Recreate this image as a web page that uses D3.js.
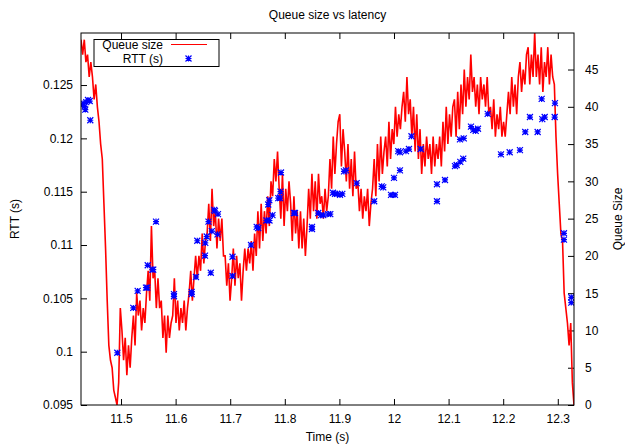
<!DOCTYPE html>
<html>
<head>
<script src="https://d3js.org/d3.v7.min.js"></script>
<style>
    body { margin: 0; background: #fff; }
    text { font-family: "Liberation Sans", Arial, sans-serif; }
</style>
</head>
<body>
<div id="chart"></div>
<script>
    // Queue size samples (packets), one every queueStep seconds from queueStart
    var queueStart = 11.4267
    var queueStep = 0.003
    var queueSize = [
        49,47,49,46,47,44,46,44,41,43,
        40,38,35,33,27,21,14,8,6,5,
        2,1,0,3,13,10,6,9,4,8,
        5,9,12,8,15,12,14,10,13,11,
        15,18,14,24,17,18,13,17,13,14,
        9,12,7,12,9,11,12,17,11,14,
        10,13,11,14,10,13,15,18,14,17,
        20,17,20,18,23,19,22,23,27,22,
        29,24,26,21,25,22,25,20,20,16,
        19,14,17,21,16,20,17,19,14,18,
        21,18,21,19,22,18,23,20,26,21,
        27,22,26,23,28,24,30,28,33,30,
        34,29,25,31,24,29,26,30,27,22,
        28,23,26,21,26,21,25,20,24,29,
        25,31,26,30,25,31,27,28,25,29,
        26,28,33,29,36,31,35,38,39,32,
        37,34,30,35,29,33,28,34,29,30,
        26,29,25,28,26,29,24,27,29,33,
        28,35,30,36,31,34,36,32,38,33,
        37,35,40,36,39,37,40,42,38,44,
        39,41,36,40,34,39,33,37,31,35,
        32,36,33,35,31,36,32,35,33,36,
        32,38,34,40,35,39,36,40,41,36,
        42,37,43,39,45,40,44,41,47,42,
        44,40,43,39,44,41,43,40,44,39,
        40,37,41,36,39,37,40,36,38,36,
        39,42,39,44,40,43,39,44,46,42,
        45,43,47,48,43,47,44,50,44,47,
        43,48,42,46,44,48,43,47,44,43,
        36,31,27,23,22,15,13,11,8,11,
        3,0
    ]

    // RTT samples: time (s) and RTT (s)
    var rttTime = [
        11.4298,11.4307,11.4335,11.4346,11.4364,11.4395,11.4426,11.4437,
        11.4932,11.5225,11.5305,11.5457,11.5481,11.5489,11.5573,11.5591,11.5641,
        11.5970,11.5970,11.6294,11.6294,11.6373,11.6397,11.6538,11.6543,11.6569,
        11.6602,11.6644,11.6663,11.6707,11.6721,11.6767,11.6776,
        11.7042,11.7042,11.7381,11.7485,11.7514,11.7664,11.7719,11.7697,11.7716,
        11.7774,11.7881,11.7912,11.7921,11.7930,
        11.8168,11.8186,11.8498,11.8498,11.8613,11.8663,11.8705,11.8796,11.8833,
        11.8882,11.8919,11.8956,11.9011,11.9053,11.9084,11.9120,11.9316,
        11.9637,11.9774,11.9803,11.9945,12.0018,12.0000,12.0109,12.0078,12.0109,
        12.0219,12.0274,12.0320,12.0489,12.0787,12.0787,12.0934,
        12.1117,12.1148,12.1214,12.1269,12.1208,12.1278,12.1410,12.1452,12.1496,
        12.1538,12.1716,12.1959,12.2119,12.2307,12.2404,12.2490,12.2631,
        12.2705,12.2716,12.2760,12.2948,12.2943,12.3113,12.3113,12.3247,12.3247
    ]
    var rttValue = [
        0.1231,0.1233,0.1230,0.1227,0.1234,0.1236,0.1235,0.1217,
        0.0999,0.1041,0.1057,0.1060,0.1060,0.1081,0.1077,0.1077,0.1122,
        0.1054,0.1052,0.1056,0.1054,0.1070,0.1104,0.1090,0.1102,0.1108,
        0.1122,0.1074,0.1113,0.1133,0.1132,0.1110,0.1129,
        0.1089,0.1071,0.1100,0.1117,0.1116,0.1123,0.1123,0.1138,0.1142,
        0.1128,0.1144,0.1144,0.1150,0.1168,
        0.1130,0.1130,0.1117,0.1115,0.1130,0.1128,0.1128,0.1129,0.1129,
        0.1149,0.1148,0.1148,0.1147,0.1148,0.1169,0.1170,0.1158,
        0.1141,0.1155,0.1154,0.1147,0.1147,0.1163,0.1170,0.1188,0.1187,
        0.1188,0.1190,0.1202,0.1190,0.1157,0.1141,0.1161,
        0.1174,0.1175,0.1178,0.1181,0.1199,0.1200,0.1211,0.1208,0.1207,
        0.1209,0.1223,0.1185,0.1187,0.1189,0.1206,0.1220,0.1206,
        0.1237,0.1218,0.1220,0.1233,0.1220,0.1111,0.1105,0.1051,0.1046
    ]

    // Axis ticks
    var timeTicks = [11.5, 11.6, 11.7, 11.8, 11.9, 12, 12.1, 12.2, 12.3]
    var rttTicks = [0.095, 0.1, 0.105, 0.11, 0.115, 0.12, 0.125]
    var queueTicks = [0, 5, 10, 15, 20, 25, 30, 35, 40, 45]

    var timeDomain = [11.4267, 12.3297]
    var rttDomain = [0.095, 0.12988]
    var queueDomain = [0, 49.9]

    var width = 625, height = 448
    var margin = {top: 33, right: 51, bottom: 43, left: 81}
    var w = width - margin.left - margin.right
    var h = height - margin.top - margin.bottom

    var svg = d3.select("#chart")
        .append("svg")
            .attr("width", width)
            .attr("height", height)

    var g = svg.append("g")
        .attr("transform", "translate(" + margin.left + "," + margin.top + ")")

    var x = d3.scaleLinear().domain(timeDomain).range([0, w])
    var y = d3.scaleLinear().domain(rttDomain).range([h, 0])
    var y2 = d3.scaleLinear().domain(queueDomain).range([h, 0])

    var fmt = function (d) { return String(+d.toFixed(3)) }

    function styleAxis(sel) {
        sel.select(".domain").remove()
        sel.selectAll("line").attr("stroke", "#000")
        sel.selectAll("text")
            .attr("font-family", "'Liberation Sans', Arial, sans-serif")
            .attr("font-size", 12)
            .attr("fill", "#000")
    }

    // Axes, ticks point inward like gnuplot
    g.append("g")
        .attr("transform", "translate(0," + h + ")")
        .call(d3.axisBottom(x).tickValues(timeTicks).tickFormat(fmt).tickSize(-6).tickPadding(9))
        .call(styleAxis)

    g.append("g")
        .call(d3.axisTop(x).tickValues(timeTicks).tickFormat("").tickSize(-6))
        .call(styleAxis)

    g.append("g")
        .call(d3.axisLeft(y).tickValues(rttTicks).tickFormat(fmt).tickSize(-6).tickPadding(8))
        .call(styleAxis)

    g.append("g")
        .attr("transform", "translate(" + w + ",0)")
        .call(d3.axisRight(y2).tickValues(queueTicks).tickSize(-6).tickPadding(11))
        .call(styleAxis)

    // Clip the data to the plot area
    g.append("defs").append("clipPath")
        .attr("id", "clip")
        .append("rect")
            .attr("width", w)
            .attr("height", h)

    var plot = g.append("g").attr("clip-path", "url(#clip)")

    // Queue size line
    var queueLine = d3.line()
        .x(function (d, i) { return x(queueStart + i * queueStep) })
        .y(function (d) { return y2(d) })

    plot.append("path")
        .datum(queueSize)
        .attr("d", queueLine)
        .attr("fill", "none")
        .attr("stroke", "#ff0000")
        .attr("stroke-width", 1.6)
        .attr("stroke-linejoin", "miter")

    // RTT points as gnuplot asterisks
    var star = "M-3,0H3M0,-3V3M-3,-3L3,3M-3,3L3,-3"

    plot.selectAll(".rtt")
        .data(rttTime)
        .enter()
        .append("path")
            .attr("class", "rtt")
            .attr("d", star)
            .attr("transform", function (d, i) { return "translate(" + x(d) + "," + y(rttValue[i]) + ")" })
            .attr("fill", "none")
            .attr("stroke", "#0000ff")
            .attr("stroke-width", 1.2)

    // Border
    g.append("rect")
        .attr("width", w)
        .attr("height", h)
        .attr("fill", "none")
        .attr("stroke", "#000")
        .attr("stroke-width", 1)

    // Legend
    var legend = g.append("g").attr("transform", "translate(13,6.5)")
    legend.append("rect")
        .attr("width", 125)
        .attr("height", 27)
        .attr("fill", "#fff")
        .attr("stroke", "#000")
    legend.append("text")
        .attr("x", 69).attr("y", 9.5)
        .attr("text-anchor", "end")
        .attr("font-size", 12)
        .text("Queue size")
    legend.append("line")
        .attr("x1", 77).attr("x2", 113)
        .attr("y1", 5).attr("y2", 5)
        .attr("stroke", "#ff0000")
    legend.append("text")
        .attr("x", 69).attr("y", 23.5)
        .attr("text-anchor", "end")
        .attr("font-size", 12)
        .text("RTT (s)")
    legend.append("path")
        .attr("d", star)
        .attr("transform", "translate(94.5,19)")
        .attr("fill", "none")
        .attr("stroke", "#0000ff")
        .attr("stroke-width", 1.2)

    // Titles
    svg.append("text")
        .attr("x", margin.left + w / 2)
        .attr("y", 19)
        .attr("text-anchor", "middle")
        .attr("font-size", 12)
        .text("Queue size vs latency")

    svg.append("text")
        .attr("x", margin.left + w / 2)
        .attr("y", 441)
        .attr("text-anchor", "middle")
        .attr("font-size", 12)
        .text("Time (s)")

    svg.append("text")
        .attr("transform", "translate(19," + (margin.top + h / 2) + ") rotate(-90)")
        .attr("text-anchor", "middle")
        .attr("font-size", 12)
        .text("RTT (s)")

    svg.append("text")
        .attr("transform", "translate(622," + (margin.top + h / 2) + ") rotate(-90)")
        .attr("text-anchor", "middle")
        .attr("font-size", 12)
        .text("Queue Size")
</script>
</body>
</html>
